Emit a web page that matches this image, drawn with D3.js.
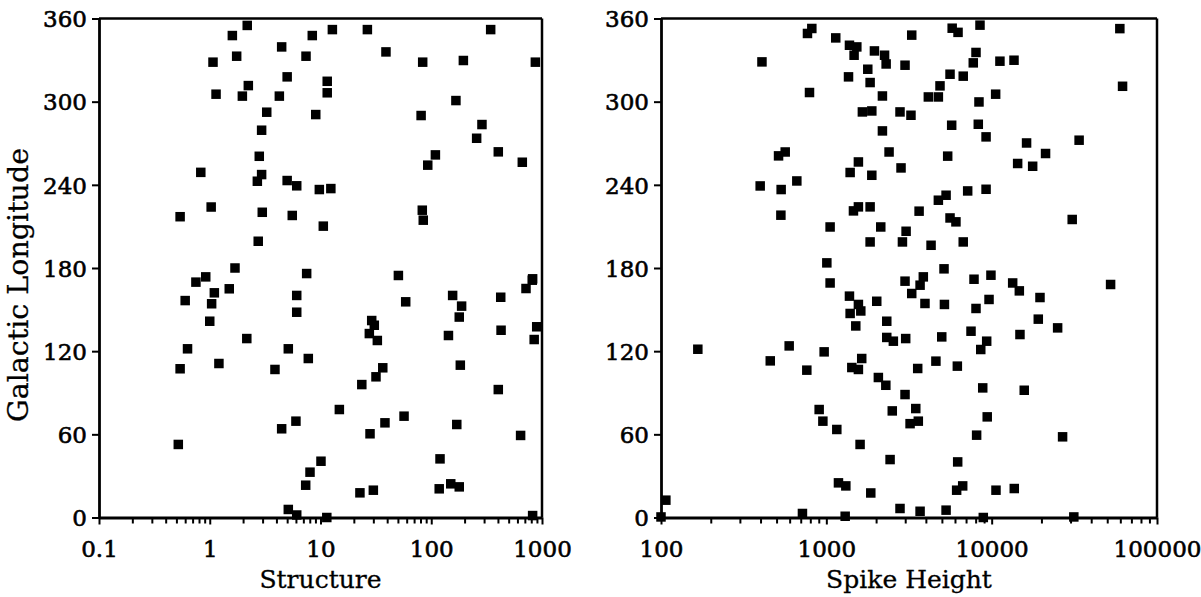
<!DOCTYPE html>
<html>
<head>
<meta charset="utf-8">
<script src="https://cdn.jsdelivr.net/npm/d3@7"></script>
<style>
  html, body { margin: 0; padding: 0; background: #fff; }
  svg { display: block; }
  .tick text { font-family: "DejaVu Serif", serif; fill: #000; }
</style>
</head>
<body>
<svg id="chart" width="1201" height="597"></svg>
<script>
// Left panel: structure value vs galactic longitude (degrees)
const structure = [
  0.54, 0.83, 1.03, 1.07, 1.14, 1.6, 1.75, 2.18, 2.23, 1.97,
  1.69, 3.27, 2.94, 2.8, 2.94, 2.69, 2.98, 2.74, 4.46, 5.0,
  4.25, 5.0, 5.56, 6.1, 8.43, 12.8, 26.5, 344, 7.4, 11.5,
  11.5, 39, 83.7, 195, 871, 167, 9.06, 81, 287, 257,
  403, 664, 109, 93, 9.76, 12.4, 10.6, 83, 84.7, 7.5,
  50.5, 823, 0.92, 0.75, 0.6, 1.1, 1.04, 1.5, 1.0, 2.16,
  0.63, 0.54, 1.21, 3.88, 5.12, 0.52, 4.46, 6.0, 6.1, 6.1,
  5.12, 6.1, 7.76, 58.8, 29, 30.6, 27.6, 32.6, 36.5, 31.7,
  23.6, 14.8, 56.8, 38.2, 28, 10.1, 8.04, 7.35, 22.7, 30,
  11.4, 156, 188, 179, 143, 183, 170, 120, 118, 150,
  179, 424, 427, 403, 641, 717, 817, 896, 850, 823
];
const structureLon = [
  217, 249, 224, 328.5, 305.4, 347.7, 332.8, 355, 311.6, 304,
  180, 292.4, 279.4, 260.6, 247.4, 242.6, 220.2, 199.3, 339.5, 317.9,
  304, 243.1, 217.9, 239.3, 347.7, 352, 352, 352, 332.8, 314.7,
  306.4, 335.9, 328.5, 329.7, 328.5, 300.8, 290.7, 290, 283.5, 273.6,
  263.8, 256.3, 261.6, 254.2, 236.6, 237.3, 210.2, 221.7, 214.5, 176,
  174.6, 172.2, 173.6, 169.8, 156.5, 162.1, 154.2, 165, 141.6, 129.1,
  121.7, 107.3, 111.1, 106.8, 121.7, 52.7, 64, 69.5, 160.2, 148.1,
  5.8, 1.8, 114.7, 155.6, 142.1, 138.7, 132.7, 127.7, 108, 101.5,
  95.9, 77.9, 73.1, 68.3, 60.4, 40.6, 32.7, 23.3, 17.8, 19.7,
  0, 160.2, 152.5, 144.6, 131.3, 109.9, 67.1, 42.3, 20.7, 24.3,
  22.1, 158.9, 135.1, 92.3, 59.2, 165.2, 171.2, 137.6, 128.4, 1.4
];

// Right panel: spike height vs galactic longitude (degrees)
const spikeHeight = [
  408, 791, 398, 514, 564, 533, 663, 531, 1054, 1007,
  769, 817, 1140, 1362, 1380, 1529, 1472, 1781, 1840, 1954,
  2250, 2300, 2184, 1652, 1884, 2184, 2396, 1393, 1563, 1884,
  1459, 1563, 1840, 2134, 1840, 3285, 5770, 6260, 8500, 59600,
  61900, 2992, 8040, 7740, 11220, 13650, 5600, 6730, 4870, 4140,
  4760, 8380, 10570, 2790, 3250, 5730, 8300, 9250, 2830, 5420,
  16260, 21180, 33800, 14360, 17700, 7160, 9250, 4760, 5300, 3640,
  5600, 6080, 3037, 2886, 4300, 6730, 30700, 5150, 1054, 1380,
  1563, 1393, 1616, 1507, 2018, 2320, 2320, 167, 458, 596,
  762, 970, 1426, 1637, 1563, 2064, 2290, 905, 953, 1157,
  1600, 1184, 1312, 1857, 107, 100, 717, 1300, 2992, 3860,
  3690, 3285, 3950, 7820, 9900, 13400, 14700, 19600, 52400, 9640,
  8040, 5180, 19140, 25060, 2543, 3020, 4990, 7500, 9330, 8590,
  14830, 3570, 4600, 6200, 8830, 15740, 2992, 2505, 3475, 3210,
  3600, 9400, 8110, 26850, 2430, 6230, 6140, 6680, 10620, 13700,
  2790, 3690, 5300, 8900, 31400
];
const spikeLon = [
  328.7, 306.6, 239.2, 260.9, 263.7, 236.6, 242.8, 218.1, 209.6, 183.7,
  349.2, 352.8, 346, 317.9, 340.7, 339.5, 333.5, 323.4, 313.8, 336.6,
  333.5, 327.2, 304.1, 292.6, 293.3, 278.9, 263.7, 248.9, 256.5, 246.9,
  221.2, 224.1, 224.1, 209.6, 198.8, 348, 353, 350, 355.2, 352.7,
  311.1, 326.3, 335.5, 328, 329.2, 329.9, 319.8, 318.4, 311.4, 303.4,
  303.4, 299.8, 305.4, 292.6, 290.2, 283, 283.7, 274.6, 252.2, 260.7,
  270.2, 262.6, 272.2, 255.4, 253.4, 235.6, 236.8, 228.9, 232.5, 221,
  216.1, 213.3, 206.5, 198.8, 196.4, 198.8, 215, 179.4, 169.2, 159.7,
  153.7, 147.2, 149, 138.2, 156, 141.6, 129.9, 121.4, 113, 123.8,
  106.3, 119.5, 108.2, 114.7, 106.8, 101, 95.4, 77.9, 69.5, 63.5,
  52.7, 25, 22.8, 17.7, 12.5, 0.4, 2.9, 0.9, 170.5, 173.6,
  167.6, 161.6, 154.4, 171.9, 174.8, 169.2, 163.5, 158.7, 168.1, 157.3,
  150.8, 153.7, 143.1, 136.8, 127.2, 129.1, 130.3, 134.4, 127.2, 121.2,
  132, 107.5, 112.8, 109.2, 93.5, 91.8, 88.7, 76.9, 78.6, 67.7,
  69.5, 72.6, 59.4, 58.2, 41.8, 40.1, 19.7, 22.8, 19.7, 20.9,
  6.5, 4.5, 5.3, 0, 0.4
];

// Axis ticks and labels
const lonTicks = [0, 60, 120, 180, 240, 300, 360];
const structureTicks = [0.1, 1, 10, 100, 1000];
const structureTickLabels = ["0.1", "1", "10", "100", "1000"];
const spikeTicks = [100, 1000, 10000, 100000];
const spikeTickLabels = ["100", "1000", "10000", "100000"];
const yTitle = "Galactic Longitude";
const structureTitle = "Structure";
const spikeTitle = "Spike Height";

const svg = d3.select("#chart");
const TOP = 18.5, BOTTOM = 517.5;
const SERIF = "'DejaVu Serif', serif";

// heavier serif lettering: fill plus a thin outline
function inked(sel, w) {
  return sel.attr("fill", "#000").attr("stroke", "#000")
    .attr("stroke-width", w).attr("paint-order", "stroke");
}

// log-scale minor ticks: 2..9 times each decade inside the domain
function minorTicks(lo, hi) {
  const out = [];
  for (let d = lo; d < hi; d *= 10) {
    for (let k = 2; k <= 9; k++) out.push(d * k);
  }
  return out;
}

function panel(opts) {
  const x = d3.scaleLog().domain(opts.domain).range([opts.left, opts.right]);
  const y = d3.scaleLinear().domain([0, 360]).range([BOTTOM, TOP]);
  const g = svg.append("g");

  // frame: top and right borders
  g.append("line").attr("x1", opts.left).attr("x2", opts.right)
    .attr("y1", TOP).attr("y2", TOP)
    .attr("stroke", "#000").attr("stroke-width", 2.5);
  g.append("line").attr("x1", opts.right).attr("x2", opts.right)
    .attr("y1", TOP).attr("y2", BOTTOM)
    .attr("stroke", "#000").attr("stroke-width", 2.5);

  // minor ticks on the log axis
  const minor = g.append("g").attr("transform", `translate(0,${BOTTOM})`)
    .call(d3.axisBottom(x).tickValues(minorTicks(opts.domain[0], opts.domain[1]))
      .tickSize(6).tickFormat(""));
  minor.select(".domain").remove();
  minor.selectAll("line").attr("stroke-width", 2);

  // major ticks with labels
  const xa = g.append("g").attr("transform", `translate(0,${BOTTOM})`)
    .call(d3.axisBottom(x).tickValues(opts.ticks).tickSize(7).tickSizeOuter(0)
      .tickPadding(11)
      .tickFormat((d, i) => opts.tickLabels[i]));
  xa.select(".domain").attr("stroke-width", 2.8);
  xa.selectAll(".tick line").attr("stroke-width", 2);
  inked(xa.selectAll(".tick text"), 0.6)
    .attr("font-size", 23).attr("font-family", SERIF).attr("dy", "0.95em");

  const ya = g.append("g").attr("transform", `translate(${opts.left},0)`)
    .call(d3.axisLeft(y).tickValues(lonTicks).tickSize(7).tickSizeOuter(0)
      .tickPadding(5));
  ya.select(".domain").attr("stroke-width", 2.8);
  ya.selectAll(".tick line").attr("stroke-width", 2);
  inked(ya.selectAll(".tick text"), 0.6)
    .attr("font-size", 23).attr("font-family", SERIF).attr("dy", "0.36em");

  // square markers
  const S = 9.5;
  g.append("g").selectAll("rect")
    .data(opts.xs.map((v, i) => [v, opts.ys[i]]))
    .join("rect")
    .attr("x", d => x(d[0]) - S / 2)
    .attr("y", d => y(d[1]) - S / 2)
    .attr("width", S).attr("height", S)
    .attr("fill", "#000");

  // x-axis title
  inked(g.append("text"), 0.3)
    .attr("x", (opts.left + opts.right) / 2).attr("y", 588)
    .attr("text-anchor", "middle")
    .attr("font-family", SERIF).attr("font-size", 25)
    .text(opts.title);
}

panel({
  left: 99, right: 542, domain: [0.1, 1000],
  ticks: structureTicks, tickLabels: structureTickLabels,
  xs: structure, ys: structureLon, title: structureTitle
});
panel({
  left: 661, right: 1157, domain: [100, 100000],
  ticks: spikeTicks, tickLabels: spikeTickLabels,
  xs: spikeHeight, ys: spikeLon, title: spikeTitle
});

// shared y-axis title
inked(svg.append("text"), 0.3)
  .attr("transform", "translate(28,285) rotate(-90)")
  .attr("text-anchor", "middle")
  .attr("font-family", SERIF).attr("font-size", 28.5)
  .text(yTitle);
</script>
</body>
</html>
